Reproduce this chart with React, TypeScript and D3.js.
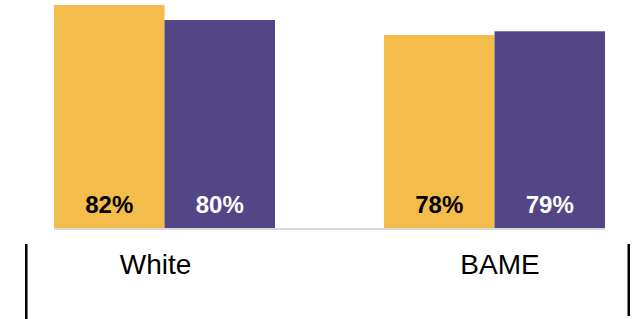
import React from 'react';
import * as d3 from 'd3';

// data
const categories = ['White', 'BAME'];
const seriesNames = ['Series A', 'Series B'];
const seriesA = [82, 78];
const seriesB = [80, 78.5];

const width = 636;
const height = 319;
const colors = ['#F4BD4B', '#544586'];
const labelColors = ['#000000', '#ffffff'];

export default function App() {
  const baseY = 228;
  const x0 = d3.scaleBand<string>()
    .domain(categories)
    .range([54, 605])
    .paddingInner(109 / 330)
    .paddingOuter(0);
  const x1 = d3.scaleBand<string>()
    .domain(seriesNames)
    .range([0, x0.bandwidth()]);
  const y = d3.scaleLinear().domain([52.3, 82]).range([baseY, 5]);
  // category labels sit slightly off the group centres in the original
  const xLabel = d3.scalePoint<string>().domain(categories).range([155.5, 500]);

  const rows = categories.map((c, i) => ({ cat: c, vals: [seriesA[i], seriesB[i]] }));
  const font = '"Liberation Sans", Arial, sans-serif';

  return (
    <svg width={width} height={height} style={{ position: 'absolute', left: 0, top: 0 }}>
      {rows.map(r => (
        <g key={r.cat} transform={`translate(${x0(r.cat)},0)`}>
          {r.vals.map((v, j) => (
            <g key={j}>
              <rect
                x={x1(seriesNames[j])}
                y={y(v)}
                width={x1.bandwidth()}
                height={baseY - y(v)}
                fill={colors[j]}
              />
              <text
                x={(x1(seriesNames[j]) || 0) + x1.bandwidth() / 2}
                y={212.5}
                textAnchor="middle"
                fontFamily={font}
                fontWeight="bold"
                fontSize={24}
                fill={labelColors[j]}
              >
                {Math.round(v)}%
              </text>
            </g>
          ))}
        </g>
      ))}
      <rect x={54} y={baseY} width={605 - 54} height={2} fill="#d9d9d9" />
      {categories.map(c => (
        <text
          key={c}
          x={xLabel(c)}
          y={274}
          textAnchor="middle"
          fontFamily={font}
          fontSize={28}
          fill="#000"
        >
          {c}
        </text>
      ))}
      <rect x={25} y={244} width={2.5} height={75} fill="#000" />
      <rect x={627.5} y={244} width={2.5} height={72} fill="#000" />
    </svg>
  );
}
